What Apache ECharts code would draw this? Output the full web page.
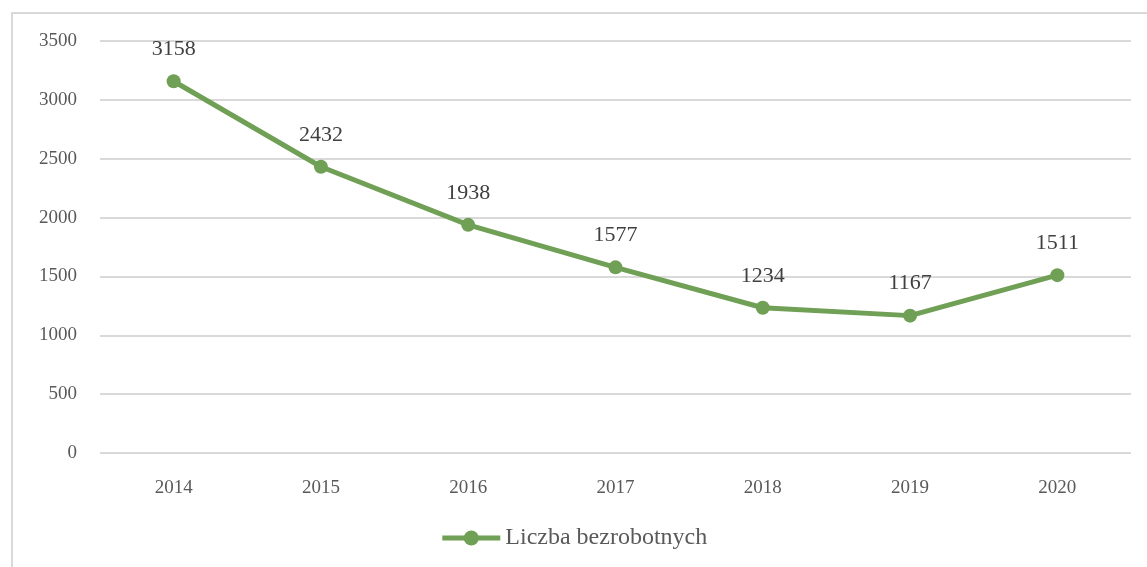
<!DOCTYPE html>
<html>
<head>
<meta charset="utf-8">
<script src="https://cdn.jsdelivr.net/npm/echarts@6/dist/echarts.min.js"></script>
<style>
    html, body { margin: 0; padding: 0; background: #fff; }
    #wrap { position: relative; width: 1147px; height: 567px; overflow: hidden; }
    #frame {
        position: absolute; left: 11px; top: 12px; width: 1200px; height: 600px;
        border-left: 2px solid #d9d9d9; border-top: 2px solid #d9d9d9;
        box-sizing: border-box;
    }
    #chart { position: absolute; left: 0; top: 0; width: 1147px; height: 567px; }
</style>
</head>
<body>
<div id="wrap">
    <div id="frame"></div>
    <div id="chart"></div>
</div>
<script>
// dane
const years = ['2014', '2015', '2016', '2017', '2018', '2019', '2020'];
const unemployed = [3158, 2432, 1938, 1577, 1234, 1167, 1511];
const seriesName = 'Liczba bezrobotnych';

const font = 'Liberation Serif, DejaVu Serif, serif';

const chart = echarts.init(document.getElementById('chart'));
chart.setOption({
    animation: false,
    grid: { left: 100, right: 16, top: 41, bottom: 114 },
    legend: {
        bottom: 12,
        left: 'center',
        itemWidth: 58,
        itemHeight: 19,
        itemGap: 4,
        lineStyle: { width: 5 },
        textStyle: { fontFamily: font, fontSize: 24, color: '#595959' },
        data: [seriesName]
    },
    xAxis: {
        type: 'category',
        data: years,
        boundaryGap: true,
        axisLine: { show: false },
        axisTick: { show: false },
        axisLabel: { margin: 26, fontFamily: font, fontSize: 19, color: '#595959' }
    },
    yAxis: {
        type: 'value',
        min: 0,
        max: 3500,
        interval: 500,
        axisLine: { show: false },
        axisTick: { show: false },
        splitLine: { lineStyle: { color: '#d9d9d9', width: 2 } },
        axisLabel: {
            margin: 23,
            fontFamily: font,
            fontSize: 19,
            color: '#595959',
            formatter: v => String(v)
        }
    },
    series: [{
        name: seriesName,
        type: 'line',
        data: unemployed,
        symbol: 'circle',
        symbolSize: 14,
        lineStyle: { color: '#70a055', width: 5 },
        itemStyle: { color: '#70a055' },
        label: {
            show: true,
            position: 'top',
            distance: 14,
            fontFamily: font,
            fontSize: 22,
            color: '#404040'
        }
    }]
});
</script>
</body>
</html>
